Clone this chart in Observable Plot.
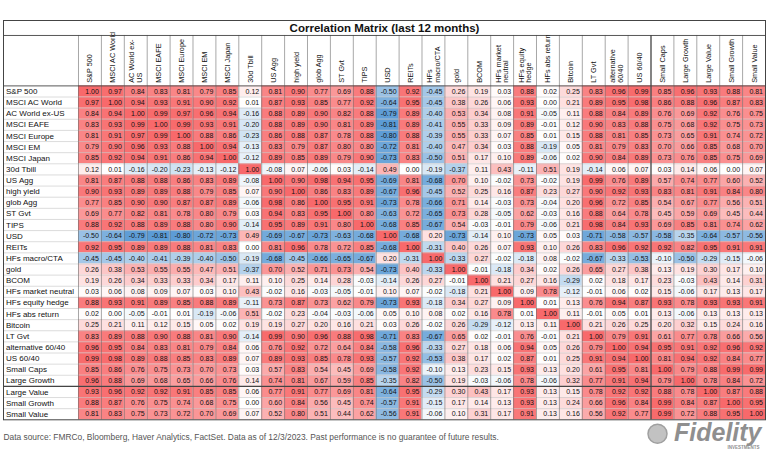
<!DOCTYPE html>
<html><head><meta charset="utf-8">
<script src="https://cdn.jsdelivr.net/npm/d3@7"></script>
<script src="https://cdn.jsdelivr.net/npm/@observablehq/plot@0.6"></script>
<style>body{margin:0;background:#fff} #chart svg{display:block}</style>
</head><body><div id="chart"></div>
<script>
const title = "Correlation Matrix (last 12 months)";
const footnote = "Data source: FMRCo, Bloomberg, Haver Analytics, FactSet. Data as of 12/3/2023. Past performance is no guarantee of future results.";
const assets = ["S&P 500","MSCI AC World","AC World ex-US","MSCI EAFE","MSCI Europe","MSCI EM","MSCI Japan","30d Tbill","US Agg","high yield","glob Agg","ST Gvt","TIPS","USD","REITs","HFs macro/CTA","gold","BCOM","HFs market neutral","HFs equity hedge","HFs abs return","Bitcoin","LT Gvt","alternative 60/40","US 60/40","Small Caps","Large Growth","Large Value","Small Growth","Small Value"];
const headerLabels = ["S&P 500","MSCI AC World","AC World ex-\nUS","MSCI EAFE","MSCI Europe","MSCI EM","MSCI Japan","30d Tbill","US Agg","high yield","glob Agg","ST Gvt","TIPS","USD","REITs","HFs\nmacro/CTA","gold","BCOM","HFs market\nneutral","HFs equity\nhedge","HFs abs return","Bitcoin","LT Gvt","alternative\n60/40","US 60/40","Small Caps","Large Growth","Large Value","Small Growth","Small Value"];
const corr = [
[1.00,0.97,0.84,0.83,0.81,0.79,0.85,0.12,0.81,0.90,0.77,0.69,0.88,-0.50,0.92,-0.45,0.26,0.19,0.03,0.88,0.02,0.25,0.83,0.96,0.99,0.85,0.96,0.93,0.88,0.81],
[0.97,1.00,0.94,0.93,0.91,0.90,0.92,0.01,0.87,0.93,0.85,0.77,0.92,-0.64,0.95,-0.45,0.38,0.26,0.06,0.93,0.00,0.21,0.89,0.95,0.98,0.86,0.88,0.96,0.87,0.83],
[0.84,0.94,1.00,0.99,0.97,0.96,0.94,-0.16,0.88,0.89,0.90,0.82,0.88,-0.79,0.89,-0.40,0.53,0.34,0.08,0.91,-0.05,0.11,0.88,0.84,0.89,0.76,0.69,0.92,0.76,0.75],
[0.83,0.93,0.99,1.00,0.99,0.93,0.91,-0.20,0.88,0.89,0.90,0.81,0.89,-0.81,0.89,-0.41,0.55,0.33,0.09,0.89,-0.01,0.12,0.90,0.83,0.88,0.75,0.68,0.92,0.75,0.73],
[0.81,0.91,0.97,0.99,1.00,0.88,0.86,-0.23,0.86,0.88,0.87,0.78,0.88,-0.80,0.88,-0.39,0.55,0.33,0.07,0.85,0.01,0.15,0.88,0.81,0.85,0.73,0.65,0.91,0.74,0.72],
[0.79,0.90,0.96,0.93,0.88,1.00,0.94,-0.13,0.83,0.79,0.87,0.80,0.80,-0.72,0.81,-0.40,0.47,0.34,0.03,0.88,-0.19,0.05,0.81,0.79,0.83,0.70,0.66,0.85,0.68,0.70],
[0.85,0.92,0.94,0.91,0.86,0.94,1.00,-0.12,0.89,0.85,0.89,0.79,0.90,-0.73,0.83,-0.50,0.51,0.17,0.10,0.89,-0.06,0.02,0.90,0.84,0.89,0.73,0.76,0.85,0.75,0.69],
[0.12,0.01,-0.16,-0.20,-0.23,-0.13,-0.12,1.00,-0.08,0.07,-0.06,0.03,-0.14,0.49,0.00,-0.19,-0.37,0.11,0.43,-0.11,0.51,0.19,-0.14,0.06,0.07,0.03,0.14,0.06,0.00,0.07],
[0.81,0.87,0.88,0.88,0.86,0.83,0.89,-0.08,1.00,0.90,0.98,0.94,0.95,-0.69,0.81,-0.68,0.70,0.10,-0.02,0.73,-0.02,0.19,0.99,0.76,0.89,0.57,0.74,0.77,0.60,0.52],
[0.90,0.93,0.89,0.89,0.88,0.79,0.85,0.07,0.90,1.00,0.86,0.83,0.89,-0.67,0.96,-0.45,0.52,0.25,0.16,0.87,0.23,0.27,0.90,0.92,0.93,0.83,0.81,0.91,0.84,0.80],
[0.77,0.85,0.90,0.90,0.87,0.87,0.89,-0.06,0.98,0.86,1.00,0.95,0.91,-0.73,0.78,-0.66,0.71,0.14,-0.03,0.73,-0.04,0.20,0.96,0.72,0.85,0.54,0.67,0.77,0.56,0.51],
[0.69,0.77,0.82,0.81,0.78,0.80,0.79,0.03,0.94,0.83,0.95,1.00,0.80,-0.63,0.72,-0.65,0.73,0.28,-0.05,0.62,-0.03,0.16,0.88,0.64,0.78,0.45,0.59,0.69,0.45,0.44],
[0.88,0.92,0.88,0.89,0.88,0.80,0.90,-0.14,0.95,0.89,0.91,0.80,1.00,-0.68,0.85,-0.67,0.54,-0.03,-0.01,0.79,-0.06,0.21,0.98,0.84,0.93,0.69,0.85,0.81,0.74,0.62],
[-0.50,-0.64,-0.79,-0.81,-0.80,-0.72,-0.73,0.49,-0.69,-0.67,-0.73,-0.63,-0.68,1.00,-0.68,0.20,-0.73,-0.14,0.10,-0.73,0.05,0.03,-0.71,-0.58,-0.57,-0.58,-0.35,-0.64,-0.57,-0.56],
[0.92,0.95,0.89,0.89,0.88,0.81,0.83,0.00,0.81,0.96,0.78,0.72,0.85,-0.68,1.00,-0.31,0.40,0.26,0.07,0.93,0.10,0.26,0.83,0.96,0.92,0.92,0.82,0.95,0.91,0.91],
[-0.45,-0.45,-0.40,-0.41,-0.39,-0.40,-0.50,-0.19,-0.68,-0.45,-0.66,-0.65,-0.67,0.20,-0.31,1.00,-0.33,0.27,-0.02,-0.18,0.08,-0.02,-0.67,-0.33,-0.53,-0.10,-0.50,-0.29,-0.15,-0.06],
[0.26,0.38,0.53,0.55,0.55,0.47,0.51,-0.37,0.70,0.52,0.71,0.73,0.54,-0.73,0.40,-0.33,1.00,-0.01,-0.18,0.34,0.02,0.26,0.65,0.27,0.38,0.13,0.19,0.30,0.17,0.10],
[0.19,0.26,0.34,0.33,0.33,0.34,0.17,0.11,0.10,0.25,0.14,0.28,-0.03,-0.14,0.26,0.27,-0.01,1.00,0.21,0.27,0.16,-0.29,0.02,0.18,0.17,0.23,-0.03,0.43,0.14,0.31],
[0.03,0.06,0.08,0.09,0.07,0.03,0.10,0.43,-0.02,0.16,-0.03,-0.05,-0.01,0.10,0.07,-0.02,-0.18,0.21,1.00,0.09,0.78,-0.12,-0.01,0.06,0.02,0.15,-0.06,0.17,0.13,0.17],
[0.88,0.93,0.91,0.89,0.85,0.88,0.89,-0.11,0.73,0.87,0.73,0.62,0.79,-0.73,0.93,-0.18,0.34,0.27,0.09,1.00,0.01,0.13,0.76,0.94,0.87,0.93,0.78,0.93,0.93,0.91],
[0.02,0.00,-0.05,-0.01,0.01,-0.19,-0.06,0.51,-0.02,0.23,-0.04,-0.03,-0.06,0.05,0.10,0.08,0.02,0.16,0.78,0.01,1.00,0.11,-0.01,0.05,0.01,0.13,-0.06,0.13,0.13,0.13],
[0.25,0.21,0.11,0.12,0.15,0.05,0.02,0.19,0.19,0.27,0.20,0.16,0.21,0.03,0.26,-0.02,0.26,-0.29,-0.12,0.13,0.11,1.00,0.21,0.26,0.25,0.20,0.32,0.15,0.24,0.16],
[0.83,0.89,0.88,0.90,0.88,0.81,0.90,-0.14,0.99,0.90,0.96,0.88,0.98,-0.71,0.83,-0.67,0.65,0.02,-0.01,0.76,-0.01,0.21,1.00,0.79,0.91,0.61,0.77,0.78,0.66,0.56],
[0.96,0.95,0.84,0.83,0.81,0.79,0.84,0.06,0.76,0.92,0.72,0.64,0.84,-0.58,0.96,-0.33,0.27,0.18,0.06,0.94,0.05,0.26,0.79,1.00,0.94,0.95,0.91,0.92,0.96,0.92],
[0.99,0.98,0.89,0.88,0.85,0.83,0.89,0.07,0.89,0.93,0.85,0.78,0.93,-0.57,0.92,-0.53,0.38,0.17,0.02,0.87,0.01,0.25,0.91,0.94,1.00,0.81,0.94,0.92,0.84,0.77],
[0.85,0.86,0.76,0.75,0.73,0.70,0.73,0.03,0.57,0.83,0.54,0.45,0.69,-0.58,0.92,-0.10,0.13,0.23,0.15,0.93,0.13,0.20,0.61,0.95,0.81,1.00,0.79,0.88,0.99,0.99],
[0.96,0.88,0.69,0.68,0.65,0.66,0.76,0.14,0.74,0.81,0.67,0.59,0.85,-0.35,0.82,-0.50,0.19,-0.03,-0.06,0.78,-0.06,0.32,0.77,0.91,0.94,0.79,1.00,0.78,0.84,0.72],
[0.93,0.96,0.92,0.92,0.91,0.85,0.85,0.06,0.77,0.91,0.77,0.69,0.81,-0.64,0.95,-0.29,0.30,0.43,0.17,0.93,0.13,0.15,0.78,0.92,0.92,0.88,0.78,1.00,0.87,0.88],
[0.88,0.87,0.76,0.75,0.74,0.68,0.75,0.00,0.60,0.84,0.56,0.45,0.74,-0.57,0.91,-0.15,0.17,0.14,0.13,0.93,0.13,0.24,0.66,0.96,0.84,0.99,0.84,0.87,1.00,0.95],
[0.81,0.83,0.75,0.73,0.72,0.70,0.69,0.07,0.52,0.80,0.51,0.44,0.62,-0.56,0.91,-0.06,0.10,0.31,0.17,0.91,0.13,0.16,0.56,0.92,0.77,0.99,0.72,0.88,0.95,1.00]
];
const colorStops = [-0.81, 0, 1];
const colorRange = ["#5b9bd5", "#ffffff", "#f8696b"];
const heavyCols = [25];  // darker divider before "Small Caps" column
const heavyRows = [27];  // darker divider before "Large Value" row

// table built from the arrays
const cells = [];
corr.forEach((row, i) => row.forEach((v, j) => cells.push({row: i, col: j, value: v})));
const n = assets.length;
const LABEL_W = 3.275;   // width of row-label column, in cell units
const HEAD = 5.876;      // header + title height, in row units
const TITLE_LINE = 4.53; // position of line under title, in row units
const font = "'Liberation Sans', Arial, sans-serif";

const chart = Plot.plot({
  width: 768, height: 463,
  marginLeft: 3, marginRight: 3, marginTop: 20, marginBottom: 43.7,
  x: {domain: [-LABEL_W, n], axis: null},
  y: {domain: [n, -HEAD], axis: null},
  color: {type: "linear", domain: colorStops, range: colorRange},
  style: {fontFamily: font, background: "#fff", color: "#000"},
  marks: [
    Plot.rect(cells, {x1: "col", x2: d => d.col + 1, y1: "row", y2: d => d.row + 1, fill: "value"}),
    Plot.ruleY(d3.range(1, n), {y: d => d, x1: -LABEL_W, x2: n, stroke: "#c4c4c4", strokeWidth: 0.6}),
    Plot.ruleX(d3.range(0, n + 1), {x: d => d, y1: -TITLE_LINE, y2: n, stroke: "#6b6b6b", strokeWidth: 0.6}),
    Plot.ruleX(heavyCols, {x: d => d, y1: -TITLE_LINE, y2: n, stroke: "#444", strokeWidth: 1.1}),
    Plot.ruleY(heavyRows, {y: d => d, x1: -LABEL_W, x2: n, stroke: "#444", strokeWidth: 1.1}),
    Plot.ruleY([0, -TITLE_LINE], {y: d => d, x1: -LABEL_W, x2: n, stroke: "#444", strokeWidth: 0.9}),
    Plot.frame({stroke: "#444", strokeWidth: 1}),
    Plot.text(cells, {x: d => d.col + 1, y: d => d.row + 0.5, dx: -2.5, text: d => d.value.toFixed(2), textAnchor: "end", fontSize: 7, fill: "#111"}),
    Plot.text(assets, {x: -LABEL_W, y: (d, i) => i + 0.5, dx: 2.5, text: d => d, textAnchor: "start", fontSize: 8, fill: "#111"}),
    Plot.text(headerLabels, {x: (d, i) => i + 0.5, y: -0.28, text: d => d, rotate: -90, textAnchor: "start", fontSize: 7.3, lineHeight: 1.05, fill: "#111"}),
    Plot.text([title], {x: (n - LABEL_W) / 2, y: -(HEAD + TITLE_LINE) / 2, text: d => d, fontWeight: "bold", fontSize: 11.5, fill: "#111"}),
    Plot.text([footnote], {frameAnchor: "bottom-left", dx: 0, dy: 17, lineAnchor: "middle", textAnchor: "start", text: d => d, fontSize: 8.4, fill: "#555"}),
    Plot.dot([0], {frameAnchor: "bottom-right", dx: -108, dy: 14, r: 9.5, fill: "#c2c2c2", stroke: "#a0a0a0"}),
    Plot.text(["Fidelity"], {frameAnchor: "bottom-right", dx: -4, dy: 13, lineAnchor: "middle", textAnchor: "end", text: d => d, fontSize: 25, fontWeight: "bold", fontStyle: "italic", fill: "#8f8f8f"}),
    Plot.text(["INVESTMENTS"], {frameAnchor: "bottom-right", dx: -6, dy: 28, lineAnchor: "middle", textAnchor: "end", text: d => d, fontSize: 4.5, fontWeight: "bold", fill: "#8f8f8f"})
  ]
});
document.getElementById("chart").append(chart);
</script>
</body></html>
